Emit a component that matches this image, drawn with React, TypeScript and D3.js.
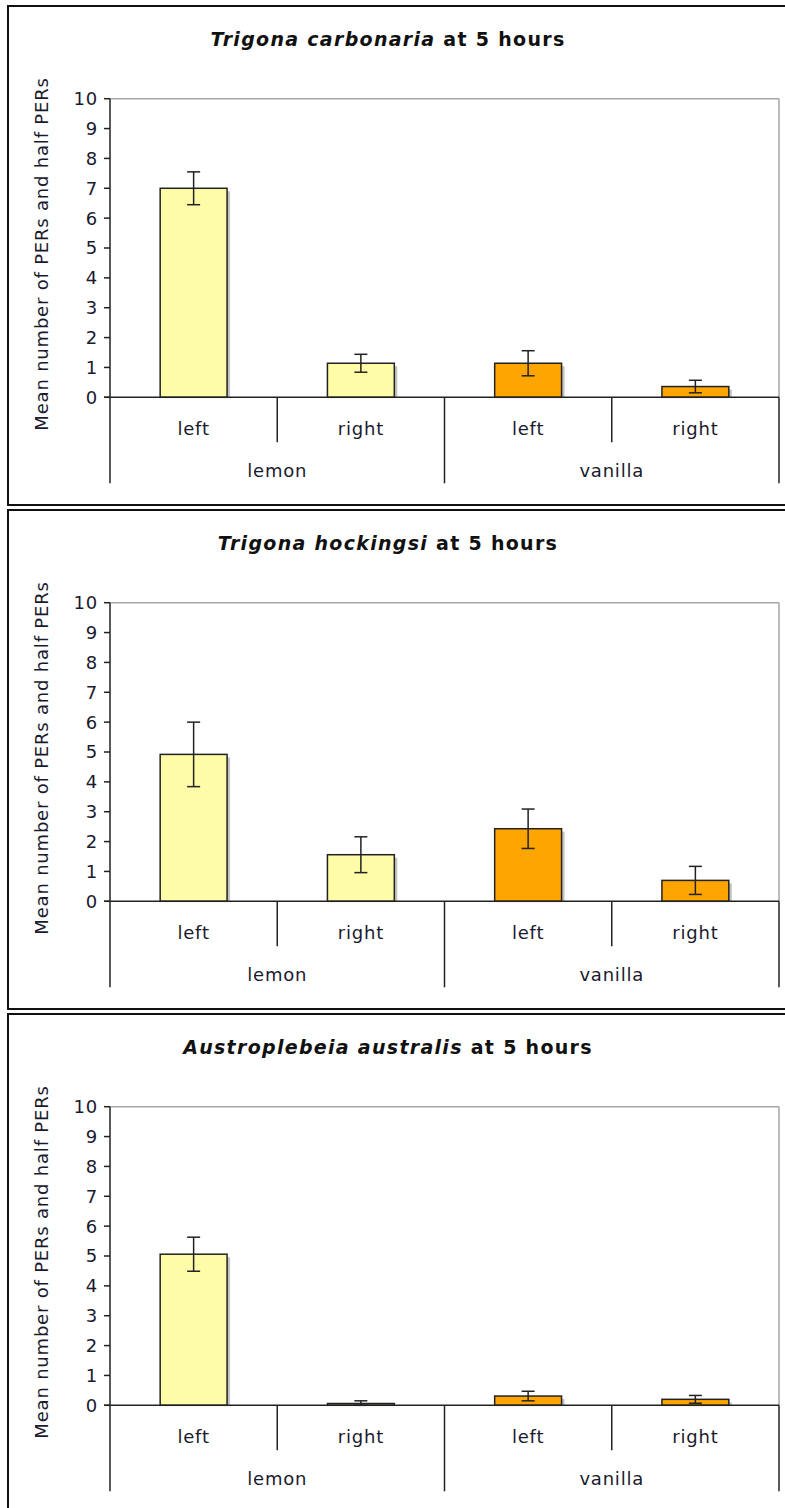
import React from 'react';
import * as d3 from 'd3';

const width = 785;
const height = 1508;

// panel data
const species = ['Trigona carbonaria', 'Trigona hockingsi', 'Austroplebeia australis'];
const scents = ['lemon', 'vanilla'];
const sides = ['left', 'right'];
const carbonariaMeans = [7.0, 1.14, 1.14, 0.36];
const carbonariaErrors = [0.55, 0.3, 0.42, 0.21];
const hockingsiMeans = [4.92, 1.56, 2.43, 0.7];
const hockingsiErrors = [1.08, 0.6, 0.66, 0.47];
const australisMeans = [5.06, 0.06, 0.31, 0.2];
const australisErrors = [0.57, 0.09, 0.16, 0.13];
const yTicks = [0, 1, 2, 3, 4, 5, 6, 7, 8, 9, 10];
const yLabel = 'Mean number of PERs and half PERs';
const scentColors = ['#FFFCA8', '#FFA500'];

const panelMeans = [carbonariaMeans, hockingsiMeans, australisMeans];
const panelErrors = [carbonariaErrors, hockingsiErrors, australisErrors];

const panelStep = 504;
const font = '"DejaVu Sans", Verdana, sans-serif';
const ink = '#1a1a2e';

const categories = scents.flatMap(s => sides.map(d => `${s}|${d}`));

const x = d3.scaleBand<string>().domain(categories).range([110, 779]).padding(0);
const y = d3.scaleLinear().domain([0, 10]).range([391.3, 92.7]);

const Panel = ({ index }: { index: number }) => {
  const means = panelMeans[index];
  const errors = panelErrors[index];
  const bw = x.bandwidth();
  const barW = bw * 0.4;
  const [x0, x1] = x.range();
  const y0 = y(0);
  const groupW = bw * sides.length;

  return (
    <g transform={`translate(0, ${6 + index * panelStep})`}>
      <rect x={8} y={0} width={790} height={499} fill="#fff" stroke="#111" strokeWidth={2} />
      <text x={388} y={40} textAnchor="middle" fontFamily={font} fontSize={19} fontWeight="bold" letterSpacing={1.3} fill="#111">
        <tspan fontStyle="italic">{species[index]}</tspan>
        <tspan> at 5 hours</tspan>
      </text>

      {/* plot area frame */}
      <line x1={x0} x2={x1} y1={y(10)} y2={y(10)} stroke="#a6a6a6" strokeWidth={1.5} />
      <line x1={x1} x2={x1} y1={y(10)} y2={y0} stroke="#a6a6a6" strokeWidth={1.5} />

      {/* y axis */}
      <line x1={x0} x2={x0} y1={y(10)} y2={y0} stroke="#222" strokeWidth={1.5} />
      {yTicks.map(t => (
        <g key={t}>
          <line x1={x0 - 6} x2={x0} y1={y(t)} y2={y(t)} stroke="#222" strokeWidth={1.5} />
          <text x={x0 - 12} y={y(t)} dy="0.36em" textAnchor="end" fontFamily={font} fontSize={18} letterSpacing={0.8} fill={ink}>
            {t}
          </text>
        </g>
      ))}
      <text
        transform={`translate(48, ${(y(0) + y(10)) / 2 + 6}) rotate(-90)`}
        textAnchor="middle"
        fontFamily={font}
        fontSize={18}
        letterSpacing={0.8}
        fill={ink}
      >
        {yLabel}
      </text>

      {/* bars */}
      {categories.map((c, i) => {
        const cx = (x(c) as number) + bw / 2;
        const top = y(means[i]);
        const fill = scentColors[Math.floor(i / sides.length)];
        const hi = y(means[i] + errors[i]);
        const lo = y(Math.max(0, means[i] - errors[i]));
        return (
          <g key={c}>
            <rect x={cx - barW / 2 + 3} y={top + 3} width={barW} height={Math.max(0, y0 - top - 3)} fill="#c4c4c4" />
            <rect x={cx - barW / 2} y={top} width={barW} height={y0 - top} fill={fill} stroke="#222" strokeWidth={1.5} />
            <line x1={cx} x2={cx} y1={hi} y2={lo} stroke="#222" strokeWidth={1.5} />
            <line x1={cx - 6.5} x2={cx + 6.5} y1={hi} y2={hi} stroke="#222" strokeWidth={1.5} />
            <line x1={cx - 6.5} x2={cx + 6.5} y1={lo} y2={lo} stroke="#222" strokeWidth={1.5} />
          </g>
        );
      })}

      {/* category axis */}
      <line x1={x0 - 6} x2={x1} y1={y0} y2={y0} stroke="#222" strokeWidth={1.5} />
      {categories.map((c, i) => {
        const left = x(c) as number;
        const isGroupStart = i % sides.length === 0;
        return (
          <g key={c}>
            <line x1={left} x2={left} y1={y0} y2={isGroupStart ? y0 + 86 : y0 + 45} stroke="#222" strokeWidth={1.5} />
            <text x={left + bw / 2} y={429} textAnchor="middle" fontFamily={font} fontSize={18} letterSpacing={0.8} fill={ink}>
              {c.split('|')[1]}
            </text>
          </g>
        );
      })}
      <line x1={x1} x2={x1} y1={y0} y2={y0 + 86} stroke="#222" strokeWidth={1.5} />
      {scents.map((s, gi) => (
        <text key={s} x={x0 + groupW * gi + groupW / 2} y={471} textAnchor="middle" fontFamily={font} fontSize={18} letterSpacing={0.8} fill={ink}>
          {s}
        </text>
      ))}
    </g>
  );
};

export default function App() {
  return (
    <svg
      width={width}
      height={height}
      style={{ position: 'absolute', left: 0, top: 0, background: '#fff' }}
    >
      {species.map((s, i) => (
        <Panel key={s} index={i} />
      ))}
    </svg>
  );
}
